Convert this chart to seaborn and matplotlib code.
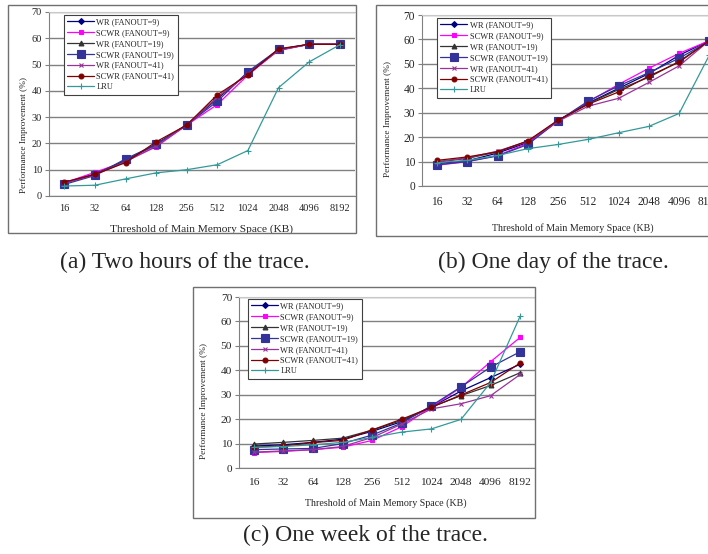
import matplotlib
matplotlib.use('Agg')
import matplotlib.pyplot as plt
from matplotlib.patches import Rectangle
from matplotlib.ticker import FixedLocator
import seaborn as sns

sns.set_style('white')
plt.rcParams['font.family'] = ['Liberation Serif', 'DejaVu Serif']

cats = ['16', '32', '64', '128', '256', '512', '1024', '2048', '4096', '8192']
names = ['WR (FANOUT=9)', 'SCWR (FANOUT=9)', 'WR (FANOUT=19)', 'SCWR (FANOUT=19)',
         'WR (FANOUT=41)', 'SCWR (FANOUT=41)', 'LRU']

# (a) two hours
wr9_a = [5.0, 8.2, 13.5, 19.8, 27.0, 37.0, 46.8, 55.6, 57.7, 57.7]
scwr9_a = [5.0, 9.0, 13.2, 18.7, 27.0, 34.8, 46.0, 55.5, 57.7, 57.7]
wr19_a = [5.0, 8.3, 13.6, 19.5, 27.0, 37.5, 46.5, 55.7, 57.7, 57.7]
scwr19_a = [4.4, 7.8, 14.1, 19.6, 27.1, 36.0, 47.3, 55.8, 57.7, 57.7]
wr41_a = [5.0, 8.0, 13.0, 19.0, 27.0, 37.5, 46.5, 55.3, 57.7, 57.7]
scwr41_a = [5.3, 8.2, 12.7, 20.6, 27.0, 38.5, 46.1, 56.0, 57.7, 57.7]
lru_a = [3.8, 4.1, 6.5, 8.8, 10.0, 11.9, 17.3, 41.2, 51.0, 57.5]

# (b) one day
wr9_b = [9.2, 10.3, 13.5, 17.8, 26.8, 34.0, 40.0, 46.0, 53.5, 59.5]
scwr9_b = [8.5, 10.0, 12.5, 17.5, 26.5, 34.5, 41.6, 48.2, 54.3, 59.5]
wr19_b = [9.8, 11.3, 14.0, 18.2, 26.8, 33.8, 39.5, 44.5, 51.0, 59.5]
scwr19_b = [8.7, 10.0, 12.3, 17.0, 26.7, 34.8, 41.0, 46.4, 52.3, 59.3]
wr41_b = [10.0, 11.5, 14.3, 18.3, 26.5, 32.7, 35.9, 42.4, 49.2, 59.5]
scwr41_b = [10.5, 11.9, 14.0, 18.5, 27.0, 33.5, 38.5, 45.0, 50.7, 59.5]
lru_b = [9.5, 10.5, 12.5, 15.3, 17.0, 19.1, 21.8, 24.4, 29.7, 53.6]

# (c) one week
wr9_c = [9.0, 9.5, 10.5, 11.8, 15.0, 19.0, 25.0, 31.5, 37.0, 42.5]
scwr9_c = [6.3, 6.8, 7.5, 8.5, 11.3, 16.9, 25.0, 33.0, 43.5, 53.5]
wr19_c = [9.8, 10.5, 11.3, 12.2, 15.5, 19.5, 25.0, 29.6, 33.8, 39.0]
scwr19_c = [7.5, 7.8, 8.0, 10.0, 13.5, 18.4, 25.5, 33.2, 41.3, 47.6]
wr41_c = [6.5, 7.0, 7.5, 8.8, 12.5, 18.0, 24.2, 26.3, 29.6, 38.3]
scwr41_c = [8.5, 9.0, 10.4, 11.3, 15.6, 20.0, 24.8, 29.9, 35.0, 43.0]
lru_c = [8.5, 8.8, 9.5, 10.5, 12.5, 14.7, 16.0, 19.9, 35.0, 62.2]

captions = ['(a) Two hours of the trace.', '(b) One day of the trace.',
            '(c) One week of the trace.']

colors = ['#000080', '#ff00ff', '#333333', '#333399', '#993399', '#800000', '#339999']
markers = ['D', 's', '^', 's', 'x', 'o', '+']
msizes = [3, 3.5, 3.5, 5.5, 3.5, 3.5, 4]

W, H = 708, 554
fig = plt.figure(figsize=(W / 100, H / 100), dpi=100)


def px_axes(x0, y0, x1, y1):
    return fig.add_axes([x0 / W, 1 - y1 / H, (x1 - x0) / W, (y1 - y0) / H])


def frame(x0, y0, x1, y1):
    fig.patches.append(Rectangle((x0 / W, 1 - y1 / H), (x1 - x0) / W, (y1 - y0) / H,
                                 transform=fig.transFigure, fill=False,
                                 edgecolor='#707070', lw=1))


def panel(ax, series, leg_xy, ylab_xy, xlab_xy, tickfs, labfs, xpad):
    for vals, name, c, m, ms in zip(series, names, colors, markers, msizes):
        sns.lineplot(x=cats, y=vals, ax=ax, color=c, marker=m, markersize=ms,
                     markeredgecolor=c, markeredgewidth=0.8, lw=0.9, label=name)
    ax.set_xlim(-0.5, 9.5)
    ax.set_ylim(0, 70)
    ax.set_yticks(range(0, 71, 10))
    ax.yaxis.grid(True, color='#808080', lw=1)
    ax.set_axisbelow(True)
    ax.xaxis.set_minor_locator(FixedLocator([i + 0.5 for i in range(-1, 10)]))
    ax.tick_params(axis='x', which='major', length=0, pad=xpad, labelsize=tickfs)
    ax.tick_params(axis='x', which='minor', length=3, color='#808080', direction='out')
    ax.tick_params(axis='y', length=3, color='#808080', direction='out', pad=2,
                   labelsize=tickfs, left=True)
    for s in ['left', 'bottom']:
        ax.spines[s].set_color('#808080')
    ax.spines['top'].set_color('#c8c8c8')
    ax.spines['right'].set_visible(False)
    ax.set_ylabel('Performance Improvement (%)', fontsize=6.7)
    ax.yaxis.set_label_coords(*ylab_xy)
    ax.yaxis.label.set_va('center')
    ax.set_xlabel('Threshold of Main Memory Space (KB)', fontsize=labfs)
    ax.xaxis.set_label_coords(*xlab_xy)
    ax.xaxis.label.set_va('center')
    ax.legend(loc='upper left', bbox_to_anchor=leg_xy, fontsize=6, frameon=True,
              fancybox=False, edgecolor='#404040', framealpha=1, borderaxespad=0,
              borderpad=0.4, labelspacing=0.34, handlelength=3.2, handletextpad=0.3)
    ax.get_legend().get_frame().set_linewidth(0.8)


frame(8, 5, 356, 233)
ax_a = px_axes(49, 12, 355, 196)
panel(ax_a, [wr9_a, scwr9_a, wr19_a, scwr19_a, wr41_a, scwr41_a, lru_a],
      (0.049, 0.984), (-0.082, 0.33), (0.498, -0.179), 7.5, 8.2, 6)

frame(376, 5, 720, 236)
ax_b = px_axes(422, 15, 724.5, 186)
panel(ax_b, [wr9_b, scwr9_b, wr19_b, scwr19_b, wr41_b, scwr41_b, lru_b],
      (0.05, 0.982), (-0.112, 0.392), (0.4975, -0.246), 8.3, 7.2, 7)

frame(193, 287, 535, 518)
ax_c = px_axes(239, 297, 535, 468)
panel(ax_c, [wr9_c, scwr9_c, wr19_c, scwr19_c, wr41_c, scwr41_c, lru_c],
      (0.03, 0.988), (-0.118, 0.392), (0.497, -0.205), 8.2, 7.2, 7)

fig.text(185 / W, 1 - 262 / H, captions[0], ha='center', va='center', fontsize=17)
fig.text(553 / W, 1 - 262 / H, captions[1], ha='center', va='center', fontsize=17)
fig.text(365 / W, 1 - 535 / H, captions[2], ha='center', va='center', fontsize=17)

fig.savefig('out.png', dpi=100)
